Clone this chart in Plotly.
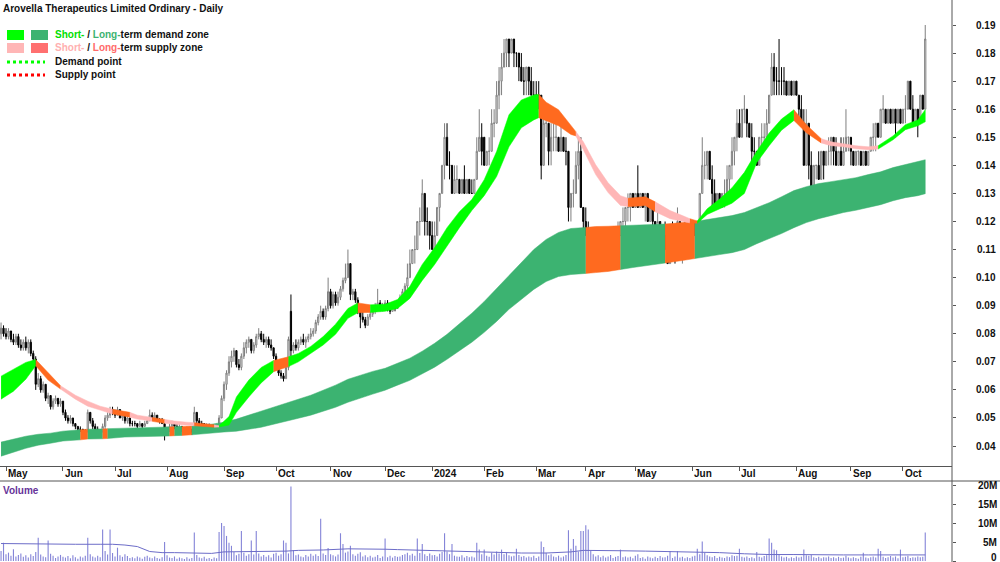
import pandas as pd
import plotly.graph_objects as go

TITLE = "Arovella Therapeutics Limited Ordinary - Daily"
FONT = "Liberation Sans, Arial, sans-serif"

first_day = "2023-04-27"
last_day = "2024-10-14"
asx_holidays = ["2023-06-12", "2023-12-25", "2023-12-26", "2024-01-01", "2024-01-26",
                "2024-03-29", "2024-04-01", "2024-04-25", "2024-06-10"]

# ---- daily prices, thousandths of a dollar ----
open_m = [
    80, 82, 80, 79, 81, 78, 77, 79, 76, 75, 77, 75, 77, 73, 71, 62, 64, 60, 62, 57,
    58, 54, 56, 57, 55, 56, 52, 50, 49, 50, 48, 47, 46, 46, 45, 45, 52, 49, 47,
    46, 45, 45, 47, 50, 51, 53, 52, 51, 53, 50, 51, 49, 50, 48, 48, 48, 47, 48, 47,
    48, 49, 51, 50, 51, 49, 49, 48, 44, 46, 47, 48, 47, 46, 47, 46, 45, 46, 46,
    45, 52, 49, 48, 48, 47, 47, 47, 46, 46, 47, 50, 57, 62, 66, 70, 72, 74, 69, 68,
    72, 75, 77, 78, 74, 76, 79, 80, 78, 77, 78, 76, 75, 72, 68, 66, 65, 64, 68,
    88, 74, 76, 75, 77, 78, 77, 78, 79, 80, 81, 84, 86, 88, 86, 89, 95, 90, 94, 91,
    93, 96, 99, 100, 105, 94, 95, 92, 88, 86, 85, 83, 86, 87, 88, 90, 91, 89, 90,
    91, 89, 88, 90, 89, 91, 93, 95, 97, 100, 105, 110, 110, 120, 120, 130, 120, 120, 115,
    110, 115, 125, 130, 140, 150, 140, 140, 130, 135, 135, 130, 135, 130, 135,
    130, 130, 135, 145, 150, 150, 140, 145, 145, 155, 155, 165, 170, 175, 180,
    185, 180, 185, 180, 180, 175, 170, 170, 175, 170, 165, 165, 165, 165,
    140, 155, 155, 145, 150, 150, 150, 145, 150, 145, 145, 125, 130, 130, 140,
    145, 125, 120, 115, 115, 110, 115, 110, 105, 110, 110, 105, 115, 110,
    110, 115, 115, 120, 120, 125, 125, 130, 125, 130, 125, 130, 125, 130, 120,
    125, 120, 115, 120, 110, 115, 110, 105, 115, 110, 110, 120, 110, 115,
    110, 115, 110, 120, 115, 120, 130, 140, 140, 145, 135, 130, 125, 130, 125,
    130, 130, 135, 140, 145, 150, 155, 150, 160, 160, 155, 150, 145, 145, 140,
    150, 150, 150, 155, 165, 175, 170, 170, 170, 170, 170, 165, 170, 165,
    170, 165, 160, 155, 140, 155, 140, 130, 140, 140, 135, 145, 140, 145, 145,
    150, 145, 140, 145, 140, 145, 150, 150, 145, 140, 145, 145, 140, 145,
    140, 145, 150, 150, 155, 150, 160, 160, 155, 160, 155, 160, 155, 160, 155,
    160, 160, 170, 160, 155, 160, 155, 165, 160,
]
high_m = [
    84, 83, 82, 82, 81, 80, 80, 80, 78, 78, 79, 78, 78, 74, 72, 66, 65, 63, 62, 59,
    58, 57, 58, 57, 57, 56, 53, 51, 51, 50, 48, 47, 47, 46, 46, 53, 52, 50, 48,
    47, 46, 48, 51, 52, 54, 54, 53, 54, 53, 52, 52, 51, 50, 49, 49, 48, 49, 48, 49,
    50, 53, 52, 52, 51, 50, 50, 48, 47, 48, 49, 48, 48, 48, 47, 46, 47, 46, 46,
    54, 52, 50, 49, 48, 48, 48, 47, 47, 48, 51, 58, 63, 67, 72, 74, 75, 74, 71, 73,
    77, 78, 79, 78, 77, 80, 82, 81, 80, 79, 79, 78, 75, 73, 69, 67, 66, 69, 79,
    94, 77, 78, 78, 79, 80, 79, 80, 82, 82, 85, 87, 90, 89, 90, 100, 96, 95, 95, 95,
    97, 100, 105, 110, 105, 96, 96, 93, 89, 89, 86, 87, 88, 89, 91, 96, 92, 91, 92,
    92, 90, 91, 91, 92, 94, 96, 98, 105, 110, 110, 115, 120, 125, 135, 130, 125, 120, 120,
    120, 125, 130, 140, 155, 155, 145, 140, 140, 140, 135, 135, 140, 135, 135,
    135, 135, 150, 160, 155, 150, 145, 150, 160, 160, 170, 175, 180, 185, 185,
    185, 185, 185, 180, 180, 180, 175, 175, 175, 175, 170, 170, 170, 165,
    160, 160, 155, 155, 155, 155, 150, 155, 150, 150, 145, 130, 135, 145, 150,
    150, 125, 125, 120, 115, 115, 115, 115, 110, 115, 115, 115, 115, 115,
    115, 120, 120, 125, 125, 130, 130, 130, 130, 140, 130, 130, 130, 130, 125,
    125, 120, 125, 120, 115, 120, 115, 115, 120, 115, 125, 120, 115, 120,
    120, 115, 120, 120, 120, 130, 150, 145, 145, 145, 140, 135, 130, 130, 130,
    135, 140, 140, 150, 150, 160, 160, 160, 165, 160, 155, 155, 150, 145, 150,
    155, 155, 160, 165, 180, 180, 175, 185, 175, 175, 170, 170, 170, 170,
    170, 165, 165, 160, 160, 155, 145, 140, 140, 145, 145, 145, 145, 150, 150,
    150, 150, 145, 150, 150, 160, 150, 150, 145, 145, 145, 145, 145, 145,
    145, 150, 155, 155, 155, 160, 165, 160, 160, 160, 160, 160, 160, 160, 160,
    165, 170, 170, 165, 160, 160, 165, 165, 190,
]
low_m = [
    78, 79, 78, 78, 77, 76, 76, 75, 74, 74, 74, 73, 72, 70, 60, 61, 59, 59, 56, 55,
    53, 53, 55, 54, 54, 51, 49, 48, 48, 47, 46, 45, 45, 44, 44, 45, 48, 46, 45,
    45, 44, 45, 46, 49, 50, 51, 50, 51, 50, 49, 48, 48, 47, 47, 47, 46, 47, 46, 47,
    48, 49, 49, 49, 49, 48, 48, 42, 44, 45, 46, 46, 46, 46, 45, 45, 45, 45, 44,
    45, 48, 48, 47, 46, 46, 46, 46, 45, 46, 47, 50, 56, 60, 65, 68, 70, 68, 67, 67,
    71, 73, 75, 73, 73, 75, 78, 77, 76, 75, 75, 74, 71, 67, 65, 64, 63, 64, 67,
    72, 73, 74, 74, 76, 76, 75, 77, 78, 79, 80, 83, 85, 85, 85, 88, 89, 89, 90, 90,
    92, 95, 98, 100, 92, 92, 91, 87, 82, 84, 82, 83, 85, 86, 87, 89, 88, 88, 89,
    88, 87, 88, 88, 89, 90, 92, 94, 96, 100, 105, 105, 110, 115, 120, 115, 115, 110, 110,
    110, 115, 120, 130, 135, 140, 135, 130, 130, 130, 130, 130, 130, 130, 130,
    130, 130, 135, 145, 140, 140, 140, 140, 145, 150, 155, 160, 165, 175, 175,
    175, 180, 175, 175, 170, 170, 165, 165, 165, 165, 160, 160, 160, 135,
    140, 150, 140, 140, 145, 145, 145, 145, 145, 140, 120, 120, 125, 130, 135,
    125, 115, 115, 110, 110, 105, 105, 105, 105, 105, 105, 105, 105, 105,
    105, 110, 115, 115, 115, 120, 120, 125, 125, 125, 125, 125, 120, 120, 120,
    115, 115, 115, 110, 110, 110, 105, 105, 110, 105, 110, 110, 105, 110,
    110, 110, 110, 115, 115, 120, 130, 135, 135, 135, 125, 125, 125, 125, 125,
    125, 130, 130, 135, 140, 145, 150, 150, 155, 150, 150, 140, 140, 140, 140,
    145, 145, 150, 155, 165, 165, 165, 165, 165, 165, 165, 165, 165, 165,
    165, 155, 155, 140, 140, 135, 125, 130, 135, 135, 135, 135, 140, 140, 140,
    140, 140, 140, 140, 140, 145, 145, 140, 140, 140, 140, 140, 140, 140,
    140, 145, 145, 145, 150, 150, 155, 155, 155, 155, 155, 150, 155, 155, 155,
    155, 160, 160, 155, 155, 150, 155, 160, 160,
]
close_m = [
    82, 80, 79, 81, 78, 77, 79, 76, 75, 77, 75, 77, 73, 71, 62, 64, 60, 62, 57, 58,
    54, 56, 57, 55, 56, 52, 50, 49, 50, 48, 47, 46, 46, 45, 45, 52, 49, 47, 46,
    45, 45, 47, 50, 51, 53, 52, 51, 53, 50, 51, 49, 50, 48, 48, 48, 47, 48, 47, 48,
    49, 51, 50, 51, 49, 49, 48, 44, 46, 47, 48, 47, 46, 47, 46, 45, 46, 46, 45,
    52, 49, 48, 48, 47, 47, 47, 46, 46, 47, 50, 57, 62, 66, 70, 72, 74, 69, 68, 72,
    75, 77, 78, 74, 76, 79, 80, 78, 77, 78, 76, 75, 72, 68, 66, 65, 64, 68, 78,
    74, 76, 75, 77, 78, 77, 78, 79, 80, 81, 84, 86, 88, 86, 89, 95, 90, 94, 91, 93,
    96, 99, 100, 105, 94, 95, 92, 88, 86, 85, 83, 86, 87, 88, 90, 91, 89, 90, 91,
    89, 88, 90, 89, 91, 93, 95, 97, 100, 105, 110, 110, 120, 120, 130, 120, 120, 115, 110,
    115, 125, 130, 140, 150, 140, 140, 130, 135, 135, 130, 135, 130, 135, 130,
    130, 135, 145, 150, 145, 140, 145, 145, 155, 155, 165, 170, 175, 180, 185,
    180, 185, 180, 180, 175, 170, 170, 175, 170, 165, 165, 165, 165, 140,
    155, 155, 145, 150, 150, 150, 145, 150, 145, 145, 125, 130, 130, 140, 145,
    125, 120, 115, 115, 110, 115, 110, 105, 110, 110, 105, 115, 110, 110,
    115, 115, 120, 120, 125, 125, 130, 125, 130, 125, 130, 125, 130, 120, 125,
    120, 115, 120, 110, 115, 110, 105, 115, 110, 110, 120, 110, 115, 110,
    115, 110, 120, 115, 120, 130, 140, 140, 145, 135, 130, 125, 130, 125, 130,
    130, 135, 140, 145, 150, 155, 150, 160, 160, 155, 150, 145, 145, 140, 150,
    150, 150, 155, 165, 175, 170, 170, 170, 170, 170, 165, 170, 165, 170,
    165, 160, 155, 140, 155, 140, 130, 140, 140, 135, 145, 140, 145, 145, 150,
    145, 140, 145, 140, 145, 150, 150, 145, 140, 145, 145, 140, 145, 140,
    145, 150, 150, 155, 150, 160, 160, 155, 160, 155, 160, 155, 160, 155, 160,
    160, 170, 160, 155, 160, 155, 165, 160, 185,
]
# ---- daily volume, units of 100,000 shares ----
volume_100k = [
    26, 48, 18, 22, 14, 31, 12, 16, 20, 11, 15, 9, 18, 13, 24, 61, 17, 12, 10, 54,
    19, 14, 8, 12, 16, 11, 9, 13, 7, 15, 10, 6, 12, 9, 14, 61, 18, 12, 9,
    14, 10, 83, 26, 17, 83, 21, 12, 35, 15, 11, 18, 13, 8, 10, 7, 12, 9, 6, 11,
    14, 9, 7, 12, 8, 6, 10, 50, 15, 9, 8, 12, 6, 9, 7, 5, 10, 6, 8,
    75, 16, 9, 7, 11, 6, 8, 5, 9, 7, 76, 100, 92, 66, 48, 40, 24, 15, 19, 79,
    22, 14, 18, 54, 17, 79, 20, 12, 16, 11, 15, 9, 19, 22, 14, 18, 54, 48, 20,
    196, 28, 15, 17, 12, 10, 16, 12, 19, 14, 18, 13, 111, 20, 16, 34, 18, 15, 12, 17,
    73, 45, 22, 25, 40, 18, 14, 19, 23, 12, 15, 10, 14, 9, 11, 16, 8, 12, 59,
    10, 14, 9, 13, 11, 12, 16, 18, 22, 15, 19, 14, 59, 21, 45, 18, 13, 20, 15,
    16, 12, 19, 24, 73, 25, 18, 45, 14, 12, 11, 15, 9, 13, 10,
    12, 9, 48, 30, 18, 30, 14, 11, 22, 17, 25, 20, 30, 18, 22,
    15, 12, 14, 32, 16, 11, 13, 9, 12, 10, 14, 8, 12, 51,
    37, 22, 15, 18, 12, 10, 14, 9, 12, 16, 81, 32, 58, 40, 25,
    79, 79, 94, 83, 26, 18, 12, 15, 10, 14, 9, 12, 16, 8,
    11, 13, 30, 10, 12, 9, 11, 7, 14, 18, 8, 10, 6, 12, 9,
    7, 11, 8, 13, 9, 10, 14, 26, 8, 12, 26, 9, 11, 7,
    10, 8, 12, 14, 32, 18, 51, 22, 15, 12, 10, 13, 8, 11, 9,
    8, 12, 10, 15, 13, 14, 32, 11, 9, 12, 8, 10, 7, 24, 11,
    9, 13, 15, 59, 48, 30, 28, 16, 12, 9, 11, 7, 10, 8,
    12, 9, 11, 30, 15, 14, 16, 10, 8, 11, 7, 10, 9, 12, 8,
    10, 7, 11, 8, 9, 14, 9, 7, 10, 8, 6, 11, 22, 9,
    7, 10, 12, 9, 32, 26, 11, 8, 10, 13, 9, 12, 7, 30, 10,
    11, 14, 8, 10, 9, 12, 10, 11, 75,
]
# volume moving average (100k units) read at trading-day positions
vma_day = [0, 10, 20, 30, 40, 45, 50, 55, 60, 65, 70, 80, 85, 90, 100, 110, 115, 120, 130, 140,
           150, 155, 160, 170, 180, 190, 200, 210, 220, 230, 235, 245, 250, 260, 270, 280, 290,
           300, 310, 320, 330, 340, 350, 360, 373]
vma_100k = [46, 45, 45, 44, 44, 44, 42, 38, 25, 22, 22, 21, 20, 24, 25, 25, 26, 28, 29, 32,
            32, 31, 30, 28, 26, 25, 22, 21, 21, 24, 28, 28, 27, 26, 25, 23, 22,
            19, 17, 17, 16, 16, 16, 16, 16]

# ---- short-term zone edges (thousandths of a dollar) ----
st_day = [0, 5, 10, 14, 19, 24, 30, 35, 40, 45, 52, 55, 61, 66, 70, 75, 78, 82, 86, 88,
          92, 95, 100, 105, 110, 116, 120, 125, 130, 135, 140, 144, 149, 155, 160, 165, 170, 175, 180, 185,
          190, 195, 200, 205, 210, 215, 217, 220, 225, 230, 232, 235, 240, 245, 250, 253, 258, 260, 264, 270,
          275, 278, 281, 285, 290, 295, 300, 305, 310, 315, 320, 325, 331, 335, 340, 345, 350, 354, 360, 365,
          370, 373]
st_top = [64.9, 67.4, 69.8, 70.8, 66.0, 61.5, 58.1, 56.0, 54.2, 53.1, 52.0, 51.0, 50.2, 49.5, 48.9, 48.5, 48.3, 48.0, 47.6, 47.2,
          50.5, 57.5, 63.5, 68.0, 70.5, 71.8, 73.0, 75.5, 79.0, 83.4, 89.0, 91.0, 90.3, 90.5, 92.2, 96.9, 104.7, 110.7, 117.8, 123.5,
          127.8, 134.9, 144.9, 158.0, 163.3, 165.1, 165.3, 162.5, 159.8, 154.5, 152.0, 148.4, 140.2, 133.8, 129.2, 128.3, 128.5, 128.8, 127.0, 123.9,
          122.1, 121.0, 120.2, 124.5, 128.0, 132.0, 137.5, 145.0, 151.5, 156.5, 159.8, 154.5, 149.5, 148.4, 147.7, 147.0, 146.6, 147.0, 150.5, 154.5,
          156.2, 159.8]
st_bottom = [56.7, 59.5, 63.8, 68.6, 63.5, 60.3, 56.7, 54.2, 52.8, 51.4, 50.3, 49.6, 48.8, 48.1, 47.8, 47.5, 47.2, 47.0, 46.7, 46.8,
             47.5, 52.0, 57.5, 62.5, 66.5, 68.3, 70.0, 73.0, 76.0, 79.8, 85.5, 87.5, 87.6, 88.0, 89.0, 92.6, 99.0, 104.7, 111.1, 117.8,
             123.9, 129.2, 136.0, 146.6, 153.4, 156.2, 157.0, 156.0, 154.1, 151.0, 150.5, 145.6, 136.7, 130.3, 125.7, 125.3, 125.5, 125.7, 123.5, 121.0,
             120.0, 119.5, 119.4, 122.5, 124.5, 126.5, 130.0, 141.0, 147.0, 152.5, 156.0, 151.6, 148.0, 147.0, 146.6, 145.9, 145.6, 145.8, 149.1, 152.7,
             154.1, 155.5]
st_state = [(0, 14, "demand"), (14, 24, "active"), (24, 45, "supply"), (45, 52, "active"),
            (52, 61, "supply"), (61, 66, "active"), (66, 78, "supply"), (78, 86, "active"),
            (86, 88, "supply"), (88, 110, "demand"), (110, 116, "active"), (116, 144, "demand"),
            (144, 149, "active"), (149, 217, "demand"), (217, 232, "active"), (232, 253, "supply"),
            (253, 264, "active"), (264, 278, "supply"), (278, 281, "active"), (281, 320, "demand"),
            (320, 331, "active"), (331, 354, "supply"), (354, 373, "demand")]

# ---- long-term zone edges (thousandths of a dollar) ----
lt_day = [0, 5, 10, 15, 20, 25, 32, 35, 41, 43, 50, 55, 60, 65, 68, 70, 73, 77, 80, 85,
          90, 95, 100, 105, 110, 115, 120, 125, 130, 135, 140, 145, 150, 155, 160, 165, 170, 175, 180, 185,
          190, 195, 200, 205, 210, 215, 220, 225, 230, 236, 240, 245, 250, 255, 260, 268, 270, 275, 280, 285,
          290, 295, 300, 305, 310, 315, 320, 325, 330, 335, 340, 345, 350, 355, 360, 365, 370, 373]
lt_top = [41.4, 42.5, 43.5, 44.2, 44.6, 45.3, 45.8, 46.0, 46.1, 46.2, 46.4, 46.5, 46.7, 46.75, 46.8, 46.9, 47.0, 47.1, 47.2, 47.8,
          48.5, 49.6, 51.0, 52.4, 53.8, 55.3, 56.7, 58.1, 59.9, 61.7, 63.8, 65.2, 66.6, 67.7, 69.5, 71.3, 73.8, 76.6, 79.8, 83.4,
          87.3, 91.5, 96.1, 100.8, 105.4, 110.0, 113.6, 116.1, 117.5, 117.9, 118.2, 118.3, 118.5, 118.6, 118.9, 119.1, 119.3, 119.6, 120.0, 120.7,
          121.4, 122.1, 123.2, 124.9, 126.7, 128.8, 131.0, 132.4, 133.5, 134.2, 134.9, 135.6, 136.7, 137.7, 139.2, 140.2, 141.3, 142.0]
lt_bottom = [36.4, 37.8, 39.2, 40.3, 41.0, 41.8, 42.2, 42.5, 42.6, 42.7, 43.2, 43.3, 43.5, 43.55, 43.6, 43.7, 43.8, 44.0, 44.2, 44.6,
             45.0, 45.3, 46.0, 46.7, 47.8, 48.9, 49.9, 51.0, 52.4, 53.8, 55.6, 57.0, 58.5, 59.9, 61.7, 63.4, 65.6, 68.1, 70.9, 73.8,
             77.0, 80.5, 84.4, 88.7, 92.2, 95.8, 98.6, 100.4, 101.1, 101.5, 101.8, 102.2, 102.9, 103.6, 104.3, 105.2, 105.4, 106.1, 106.8, 107.5,
             108.2, 108.9, 110.0, 112.1, 113.9, 115.7, 117.8, 119.6, 121.0, 122.1, 123.2, 124.0, 124.9, 126.0, 127.4, 128.5, 129.2, 129.9]
lt_state = [(0, 32, "demand"), (32, 35, "active"), (35, 41, "demand"), (41, 43, "active"),
            (43, 68, "demand"), (68, 70, "active"), (70, 73, "demand"), (73, 77, "active"),
            (77, 236, "demand"), (236, 250, "active"), (250, 268, "demand"), (268, 280, "active"),
            (280, 373, "demand")]

price_ticks = [0.04, 0.05, 0.06, 0.07, 0.08, 0.09, 0.10, 0.11, 0.12, 0.13, 0.14, 0.15, 0.16, 0.17, 0.18, 0.19]
volume_ticks = [0, 5e6, 10e6, 15e6, 20e6]
volume_tick_text = ["0", "5M", "10M", "15M", "20M"]

# ---- styles ----
ST_COL = {"demand": "#00FF00", "supply": "#FFB6B6", "active": "#FF6A1F"}
LT_COL = {"demand": "#3CB371", "active": "#FF6A1F"}
W, H = 1000, 562
PLOT_W = 952
PRICE_BOTTOM_PX = 466
VOL_TOP_PX = 481


def fx(px):
    return px / PLOT_W


def fy(py):
    return (H - py) / H


days = pd.bdate_range(first_day, last_day)
days = days[~days.isin(pd.to_datetime(asx_holidays))]
n = min(len(days), len(open_m), len(high_m), len(low_m), len(close_m), len(volume_100k))
xi = list(range(n))

fig = go.Figure()


def add_zone(day_s, top_s, bot_s, states, colors):
    for a, b, st in states:
        ks = [k for k, d in enumerate(day_s) if a <= d <= b]
        xs = [day_s[k] for k in ks]
        tops = [top_s[k] / 1000 for k in ks]
        bots = [bot_s[k] / 1000 for k in ks]
        fig.add_trace(go.Scatter(
            x=xs + xs[::-1], y=tops + bots[::-1], mode="lines", fill="toself",
            fillcolor=colors[st], line=dict(color=colors[st], width=0.5),
            hoverinfo="skip", xaxis="x", yaxis="y"))


add_zone(lt_day, lt_top, lt_bottom, lt_state, LT_COL)
add_zone(st_day, st_top, st_bottom, st_state, ST_COL)

fig.add_trace(go.Candlestick(
    x=xi,
    open=[v / 1000 for v in open_m[:n]], high=[v / 1000 for v in high_m[:n]],
    low=[v / 1000 for v in low_m[:n]], close=[v / 1000 for v in close_m[:n]],
    increasing=dict(line=dict(color="#7F7F7F", width=1), fillcolor="#FFFFFF"),
    decreasing=dict(line=dict(color="#000000", width=1), fillcolor="#000000"),
    whiskerwidth=0, hoverinfo="skip", xaxis="x", yaxis="y"))

fig.add_trace(go.Bar(
    x=xi, y=[v * 1e5 for v in volume_100k[:n]], width=0.45,
    marker=dict(color="#8585D8", line=dict(width=0)), hoverinfo="skip",
    xaxis="x", yaxis="y2"))
fig.add_trace(go.Scatter(
    x=vma_day, y=[v * 1e5 for v in vma_100k], mode="lines",
    line=dict(color="#6C6CC8", width=1), hoverinfo="skip", xaxis="x", yaxis="y2"))

month_idx = [i for i in range(1, n) if days[i].month != days[i - 1].month]
month_txt = [str(days[i].year) if days[i].month == 1 else days[i].strftime("%b") for i in month_idx]

px_per_unit = 952 / 384.22
x0 = 2 - 6 / px_per_unit
x1 = x0 + PLOT_W / px_per_unit
dollar_px = 2807.0
y_top = 0.19 + 25 / dollar_px
y_bot = y_top - PRICE_BOTTOM_PX / dollar_px
vol_px_per_share = 19 / 5e6
v_bot = -1 / vol_px_per_share
v_top = v_bot + (H - VOL_TOP_PX) / vol_px_per_share

fig.update_layout(
    width=W, height=H, margin=dict(l=0, r=W - PLOT_W, t=0, b=0),
    paper_bgcolor="white", plot_bgcolor="white", showlegend=False,
    font=dict(family=FONT, size=10, color="#111111"),
    xaxis=dict(range=[x0, x1], domain=[0, 1], anchor="y", showgrid=False, zeroline=False,
               rangeslider=dict(visible=False), showline=True, linecolor="#555555", linewidth=1,
               ticks="outside", ticklen=4, tickcolor="#555555", tickvals=month_idx,
               showticklabels=False, fixedrange=True),
    yaxis=dict(domain=[fy(PRICE_BOTTOM_PX), 1], range=[y_bot, y_top], side="right",
               showgrid=False, zeroline=False, showline=False, ticks="outside", ticklen=3,
               tickcolor="#555555", tickvals=price_ticks, showticklabels=False),
    yaxis2=dict(domain=[0, fy(VOL_TOP_PX)], range=[v_bot, v_top], side="right", anchor="x",
                showgrid=False, zeroline=False, showline=False, ticks="outside", ticklen=3,
                tickcolor="#555555", tickvals=volume_ticks, showticklabels=False),
)

shapes = []
annotations = []
# frame lines
shapes.append(dict(type="line", xref="paper", yref="paper", x0=1, x1=1, y0=0, y1=1,
                   line=dict(color="#555555", width=1)))
shapes.append(dict(type="line", xref="paper", yref="paper", x0=0, x1=fx(W), y0=fy(VOL_TOP_PX),
                   y1=fy(VOL_TOP_PX), line=dict(color="#555555", width=1)))

# axis labels (right-aligned)
for v in price_ticks:
    annotations.append(dict(xref="paper", yref="y", x=fx(998), y=v, xanchor="right", yanchor="middle",
                            text="<b>%.2f</b>" % v, showarrow=False,
                            font=dict(size=10, color="#111111", family=FONT)))
for v, t in zip(volume_ticks, volume_tick_text):
    annotations.append(dict(xref="paper", yref="y2", x=fx(999), y=v, xanchor="right", yanchor="middle",
                            yshift=4 if v == 0 else 0,
                            text="<b>%s</b>" % t, showarrow=False,
                            font=dict(size=10, color="#111111", family=FONT)))
for i, t in zip(month_idx, month_txt):
    annotations.append(dict(xref="x", yref="paper", x=i, y=fy(473.5), xanchor="left", yanchor="middle",
                            xshift=0, text="<b>%s</b>" % t, showarrow=False,
                            font=dict(size=10, color="#111111", family=FONT)))

# title and panel label
annotations.append(dict(xref="paper", yref="paper", x=fx(1), y=fy(1), xanchor="left", yanchor="top",
                        text="<b>%s</b>" % TITLE, showarrow=False,
                        font=dict(size=10, color="#111111", family=FONT)))
annotations.append(dict(xref="paper", yref="paper", x=fx(1), y=fy(490), xanchor="left", yanchor="middle",
                        text="<b>Volume</b>", showarrow=False,
                        font=dict(size=10, color="#663399", family=FONT)))

# legend
legend_rows = [
    (35, "#00FF00", "#3CB371",
     '<b><span style="color:#00E000">Short-</span> / <span style="color:#3CB371">Long-</span>term demand zone</b>'),
    (48, "#FFB6B6", "#FF7070",
     '<b><span style="color:#FFB0B0">Short-</span> / <span style="color:#FF6A6A">Long-</span>term supply zone</b>'),
]
for yc, c1, c2, txt in legend_rows:
    shapes.append(dict(type="rect", xref="paper", yref="paper", x0=fx(7), x1=fx(24), y0=fy(yc + 5),
                       y1=fy(yc - 5), fillcolor=c1, line=dict(width=0)))
    shapes.append(dict(type="rect", xref="paper", yref="paper", x0=fx(31), x1=fx(48), y0=fy(yc + 5),
                       y1=fy(yc - 5), fillcolor=c2, line=dict(width=0)))
    annotations.append(dict(xref="paper", yref="paper", x=fx(53), y=fy(yc), xanchor="left", yanchor="middle",
                            text=txt, showarrow=False, font=dict(size=10, color="#111111", family=FONT)))
for yc, c, txt in [(62, "#00FF00", "Demand point"), (75, "#FF0000", "Supply point")]:
    shapes.append(dict(type="line", xref="paper", yref="paper", x0=fx(7), x1=fx(45), y0=fy(yc), y1=fy(yc),
                       line=dict(color=c, width=3, dash="dot")))
    annotations.append(dict(xref="paper", yref="paper", x=fx(53), y=fy(yc), xanchor="left", yanchor="middle",
                            text="<b>%s</b>" % txt, showarrow=False,
                            font=dict(size=10, color="#111111", family=FONT)))

fig.update_layout(shapes=shapes, annotations=annotations)
fig.write_html("out.html", include_plotlyjs=True, config={"displayModeBar": False, "staticPlot": True})
